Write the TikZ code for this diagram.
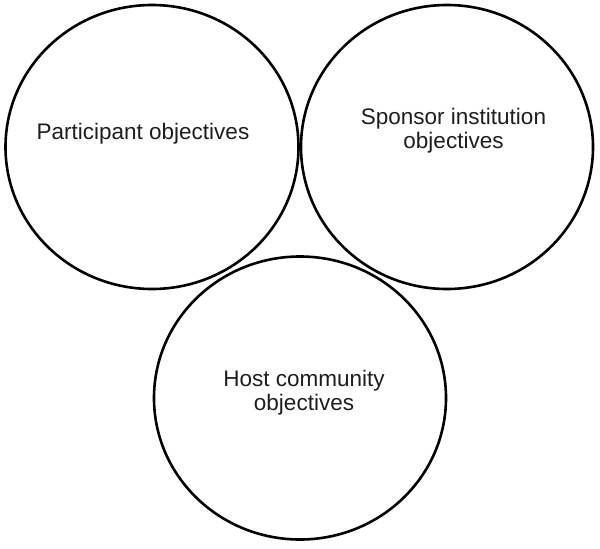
\documentclass[tikz,border=0pt]{standalone}
\usepackage{fontspec}
\setmainfont{Liberation Sans}
\usetikzlibrary{shapes.geometric}
\definecolor{txtgray}{HTML}{1E1E1E}
\tikzset{
  ring/.style={draw=black, line width=2.6pt, ellipse, inner sep=0pt},
  label/.style={text=txtgray, align=center, inner sep=0pt,
    font=\fontsize{22.5}{24}\selectfont}
}
\begin{document}
\begin{tikzpicture}[x=1pt,y=-1pt]
\useasboundingbox (0,0) rectangle (600,549);
\node[ring, minimum width=293pt, minimum height=284pt] (c1) at (152,147) {};
\node[ring, minimum width=292pt, minimum height=284pt] (c2) at (447,147) {};
\node[ring, minimum width=292pt, minimum height=283pt] (c3) at (300,398) {};
\node[label] (t1) at (143,134) {Participant objectives};
\node[label] (t2) at (453.5,130.5) {Sponsor institution\\objectives};
\node[label] (t3) at (304,392.5) {Host community\\objectives};
\end{tikzpicture}
\end{document}
